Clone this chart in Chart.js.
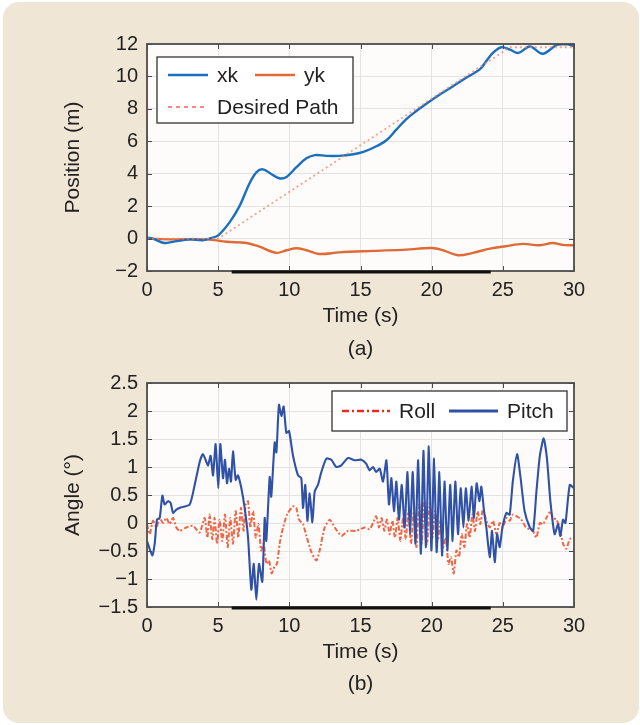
<!DOCTYPE html>
<html>
<head>
<meta charset="utf-8">
<script src="https://cdn.jsdelivr.net/npm/chart.js@4.4.1/dist/chart.umd.min.js"></script>
<style>
  body { margin: 0; background: #ffffff; width: 640px; height: 725px; overflow: hidden; }
  #panel { position: absolute; left: 3px; top: 2px; width: 636px; height: 721px; background: #f0e6d6; border-radius: 16px; }
  .holder { position: absolute; left: 0; width: 640px; }
  .cap { position: absolute; left: 147px; width: 427px; text-align: center; font: 21px "Liberation Sans", Arial, sans-serif; color: #222; line-height: 24px; }
</style>
</head>
<body>
<div id="panel"></div>
<div class="holder" style="top:0;height:362px"><canvas id="positionChart" width="640" height="362"></canvas></div>
<div class="holder" style="top:362px;height:336px"><canvas id="angleChart" width="640" height="336"></canvas></div>
<div class="cap" style="top:336px">(a)</div>
<div class="cap" style="top:671px">(b)</div>
<script>
// ---- data (a): position
const xkTime = [0, 0.4, 1.2, 1.8, 3.0, 3.9, 4.4, 5.0, 5.8, 6.5, 7.2, 7.7, 8.15, 8.7, 9.3, 9.8, 10.5, 11.2, 11.8, 12.6, 13.5, 14.5, 15.2, 15.9, 16.8, 17.5, 18.2, 18.9, 19.6, 20.6, 21.5, 22.4, 23.4, 23.8, 24.3, 24.9, 25.5, 26.1, 26.9, 27.8, 28.8, 29.5, 30];
const xkValues = [0.05, 0.0, -0.27, -0.2, -0.05, -0.1, 0.0, 0.2, 1.0, 2.0, 3.4, 4.1, 4.27, 4.0, 3.72, 3.8, 4.4, 4.95, 5.15, 5.1, 5.1, 5.2, 5.35, 5.6, 6.05, 6.7, 7.35, 7.85, 8.3, 8.9, 9.4, 9.9, 10.45, 10.9, 11.45, 11.8, 11.65, 11.45, 11.85, 11.4, 11.95, 12.0, 11.85];

const ykTime = [0, 1.8, 4.2, 5.6, 7.0, 7.9, 9.1, 9.8, 10.5, 11.2, 12.1, 13.5, 15.9, 18.2, 20.0, 20.8, 21.85, 22.9, 24.1, 25.2, 26.4, 27.6, 28.5, 29.2, 30];
const ykValues = [0, -0.05, -0.05, -0.2, -0.27, -0.5, -0.88, -0.72, -0.6, -0.72, -0.95, -0.85, -0.76, -0.68, -0.58, -0.72, -1.03, -0.88, -0.62, -0.47, -0.33, -0.41, -0.27, -0.39, -0.41];

const pathTime = [0, 5, 25.5, 30];
const pathValues = [0, 0, 11.8, 11.8];

// ---- data (b): angles
const rollTime = [0, 0.19, 0.42, 0.66, 0.89, 1.12, 1.36, 1.59, 1.83, 2.06, 2.3, 2.76, 3.23, 3.7, 4.05, 4.24, 4.4, 4.59, 4.75, 4.92, 5.1, 5.29, 5.48, 5.67, 5.85, 6.04, 6.23, 6.42, 6.6, 6.79, 6.93, 7.1, 7.26, 7.45, 7.64, 7.83, 8.02, 8.2, 8.39, 8.57, 8.76, 8.95, 9.13, 9.32, 9.56, 9.84, 10.14, 10.3, 10.49, 10.68, 10.96, 11.2, 11.55, 11.9, 12.13, 12.48, 12.84, 13.19, 13.66, 14.12, 14.71, 15.3, 15.64, 15.88, 16.1, 16.3, 16.48, 16.67, 16.86, 17.05, 17.24, 17.42, 17.61, 17.8, 17.99, 18.18, 18.36, 18.55, 18.74, 18.93, 19.12, 19.3, 19.49, 19.68, 19.87, 20.06, 20.24, 20.43, 20.62, 20.8, 20.99, 21.18, 21.36, 21.55, 21.74, 21.92, 22.11, 22.3, 22.48, 22.67, 22.86, 23.04, 23.23, 23.42, 23.6, 23.84, 24.08, 24.31, 24.55, 24.78, 25.0, 25.25, 25.48, 25.7, 25.98, 26.3, 26.63, 27.1, 27.36, 27.6, 27.83, 28.06, 28.34, 28.53, 28.76, 29.0, 29.23, 29.46, 29.7, 30];
const rollValues = [-0.02, -0.2, 0.04, -0.08, 0.09, 0.0, 0.09, -0.02, 0.09, -0.08, -0.14, -0.08, -0.05, -0.17, 0.09, -0.26, 0.15, -0.29, 0.09, -0.37, 0.06, -0.32, 0.15, -0.43, 0.09, -0.37, 0.21, -0.26, 0.27, -0.14, 0.33, 0.39, -0.08, 0.21, -0.26, -0.02, -0.49, -0.37, -0.73, -0.67, -0.9, -0.78, -0.73, -0.37, -0.08, 0.15, 0.27, 0.3, 0.27, 0.06, -0.02, -0.23, -0.52, -0.67, -0.49, -0.08, 0.06, -0.08, -0.23, -0.14, -0.14, -0.08, -0.11, 0.0, 0.12, -0.08, 0.09, -0.14, 0.06, -0.2, 0.04, -0.26, 0.09, -0.32, 0.09, -0.29, 0.21, -0.37, 0.21, -0.43, 0.33, -0.37, 0.39, -0.37, 0.36, -0.26, 0.21, -0.32, 0.04, -0.43, -0.26, -0.73, -0.61, -0.9, -0.49, -0.61, -0.2, -0.43, -0.02, -0.26, 0.15, -0.14, 0.21, -0.02, 0.24, 0.04, -0.08, 0.04, -0.2, 0.0, -0.08, 0.09, 0.04, 0.15, 0.12, 0.06, -0.08, -0.14, -0.26, 0.0, -0.02, 0.09, 0.21, 0.09, 0.06, -0.08, -0.37, -0.46, -0.29, -0.26];

const pitchTime = [0, 0.37, 0.54, 0.7, 0.89, 1.08, 1.24, 1.48, 1.66, 1.83, 2.06, 2.41, 3.0, 3.35, 3.7, 3.93, 4.17, 4.29, 4.47, 4.64, 4.82, 5.01, 5.15, 5.34, 5.48, 5.62, 5.76, 5.9, 6.04, 6.23, 6.39, 6.63, 6.86, 7.1, 7.33, 7.5, 7.68, 7.87, 8.1, 8.27, 8.38, 8.62, 8.73, 8.97, 9.09, 9.27, 9.44, 9.6, 9.79, 9.98, 10.26, 10.61, 10.84, 10.96, 11.12, 11.27, 11.43, 11.62, 11.78, 12.01, 12.25, 12.6, 12.95, 13.3, 13.65, 14.12, 14.59, 15.06, 15.4, 15.64, 15.88, 16.1, 16.35, 16.58, 16.82, 17.0, 17.17, 17.35, 17.52, 17.7, 17.9, 18.1, 18.3, 18.48, 18.67, 18.86, 19.05, 19.24, 19.42, 19.6, 19.8, 19.98, 20.17, 20.35, 20.54, 20.73, 20.9, 21.1, 21.3, 21.47, 21.66, 21.85, 22.04, 22.23, 22.4, 22.6, 22.8, 22.97, 23.16, 23.35, 23.49, 23.68, 23.84, 24.08, 24.24, 24.43, 24.6, 24.78, 24.97, 25.25, 25.48, 25.7, 26.0, 26.25, 26.53, 26.9, 27.13, 27.36, 27.6, 27.87, 28.1, 28.34, 28.64, 28.88, 29.04, 29.23, 29.4, 29.7, 30];
const pitchValues = [-0.32, -0.58, -0.37, 0.06, 0.09, 0.49, 0.33, 0.39, 0.36, 0.18, 0.24, 0.28, 0.33, 0.68, 1.09, 1.23, 1.09, 1.03, 1.2, 0.85, 1.41, 0.62, 1.41, 0.8, 1.13, 0.71, 0.97, 0.74, 1.28, 0.77, 0.85, 0.62, 0.27, -0.26, -1.19, -0.73, -1.37, -0.73, -1.05, 0.09, -0.32, 0.82, 0.47, 1.44, 1.26, 2.11, 1.91, 2.08, 1.61, 1.64, 1.2, 0.85, 0.8, 0.27, 0.68, 0.04, 0.53, 0.01, 0.56, 0.68, 0.91, 1.15, 1.13, 1.0, 1.03, 1.16, 1.12, 1.13, 1.06, 0.94, 1.0, 0.91, 0.97, 0.74, 1.12, 0.33, 0.8, 0.21, 0.74, 0.06, 0.68, -0.08, 0.91, -0.2, 0.91, -0.37, 1.12, -0.55, 1.29, -0.43, 1.37, -0.49, 1.15, -0.52, 0.91, -0.58, 0.74, -0.49, 0.68, -0.32, 0.74, -0.2, 0.62, -0.08, 0.62, 0.04, 0.65, 0.09, 0.71, 0.39, 0.65, 0.21, -0.08, -0.61, -0.14, -0.7, -0.2, -0.43, -0.08, 0.18, 0.15, 0.74, 1.23, 0.8, 0.21, -0.08, -0.14, 0.56, 1.2, 1.51, 1.15, 0.39, -0.2, -0.02, -0.23, 0.06, 0.0, 0.68, 0.62];

function toPoints(times, values) {
  return times.map((t, i) => ({ x: t, y: values[i] }));
}

Chart.defaults.font.family = '"Liberation Sans", Arial, Helvetica, sans-serif';
Chart.defaults.color = '#222';

const fontTick = { size: 20 };
const fontTitle = { size: 21 };
const minusLabel = v => (v < 0 ? '\u2212' + Math.abs(v) : String(v));

// plot background, frame and inward tick marks
const framePlugin = {
  id: 'frame',
  beforeDraw(chart) {
    const { ctx, chartArea: a } = chart;
    ctx.save();
    ctx.fillStyle = '#fdfcfa';
    ctx.fillRect(a.left, a.top, a.right - a.left, a.bottom - a.top);
    ctx.restore();
  },
  afterDatasetsDraw(chart, args, opts) {
    const { ctx, chartArea: a, scales: { x, y } } = chart;
    ctx.save();
    ctx.strokeStyle = '#4a4a4a';
    ctx.lineWidth = 1;
    ctx.beginPath();
    x.ticks.forEach(t => {
      const px = Math.round(x.getPixelForValue(t.value)) + 0.5;
      ctx.moveTo(px, a.bottom); ctx.lineTo(px, a.bottom - 5);
      ctx.moveTo(px, a.top); ctx.lineTo(px, a.top + 5);
    });
    y.ticks.forEach(t => {
      const py = Math.round(y.getPixelForValue(t.value)) + 0.5;
      ctx.moveTo(a.left, py); ctx.lineTo(a.left + 5, py);
      ctx.moveTo(a.right, py); ctx.lineTo(a.right - 5, py);
    });
    ctx.stroke();
    ctx.lineWidth = 1.8;
    ctx.strokeStyle = '#4d4d4d';
    ctx.strokeRect(a.left, a.top, a.right - a.left, a.bottom - a.top);
    // dark scan band along the lower edge
    if (opts.bandFrom !== undefined) {
      ctx.lineWidth = 3;
      ctx.strokeStyle = '#111';
      ctx.beginPath();
      ctx.moveTo(x.getPixelForValue(opts.bandFrom), a.bottom + 1);
      ctx.lineTo(x.getPixelForValue(opts.bandTo), a.bottom + 1);
      ctx.stroke();
    }
    ctx.restore();
  }
};

// boxed legend, MATLAB style
const boxLegend = {
  id: 'boxLegend',
  afterDraw(chart, args, opts) {
    const ctx = chart.ctx;
    const b = opts.box;
    ctx.save();
    ctx.fillStyle = '#ffffff';
    ctx.fillRect(b.x, b.y, b.w, b.h);
    ctx.strokeStyle = '#333';
    ctx.lineWidth = 1.3;
    ctx.strokeRect(b.x, b.y, b.w, b.h);
    ctx.font = '21px "Liberation Sans", Arial, sans-serif';
    ctx.fillStyle = '#222';
    ctx.textBaseline = 'middle';
    opts.items.forEach(it => {
      const ds = chart.data.datasets[it.dataset];
      ctx.strokeStyle = it.color || ds.borderColor;
      ctx.lineWidth = it.width || ds.borderWidth;
      ctx.setLineDash(it.dash || ds.borderDash || []);
      ctx.beginPath();
      ctx.moveTo(it.x0, it.y);
      ctx.lineTo(it.x1, it.y);
      ctx.stroke();
      ctx.setLineDash([]);
      ctx.fillText(ds.label, it.tx, it.y + 1);
    });
    ctx.restore();
  }
};

function axes(yMin, yMax, yStep, yTitle) {
  return {
    x: {
      type: 'linear', min: 0, max: 30,
      ticks: { stepSize: 5, padding: 7, font: fontTick, color: '#222', maxRotation: 0 },
      grid: { color: '#e3e3e3', drawTicks: false },
      border: { display: false },
      title: { display: true, text: 'Time (s)', font: fontTitle, color: '#222', padding: { top: 0, bottom: 33 } },
      afterFit(scale) { scale.height = 91; }
    },
    y: {
      type: 'linear', min: yMin, max: yMax,
      ticks: { stepSize: yStep, padding: 9, font: fontTick, color: '#222', callback: minusLabel },
      grid: { color: '#e3e3e3', drawTicks: false },
      border: { display: false },
      title: { display: true, text: yTitle, font: fontTitle, color: '#222', padding: { top: 61, bottom: 0 } },
      afterFit(scale) { scale.width = 147; }
    }
  };
}

const commonOptions = {
  responsive: false,
  animation: false,
  events: [],
  plugins: { legend: { display: false }, tooltip: { enabled: false } },
  elements: { point: { radius: 0 } }
};

new Chart(document.getElementById('positionChart'), {
  type: 'line',
  data: {
    datasets: [
      { label: 'xk', data: toPoints(xkTime, xkValues), borderColor: '#1a6fbf', borderWidth: 2.4, tension: 0.35, order: 1 },
      { label: 'yk', data: toPoints(ykTime, ykValues), borderColor: '#e06a35', borderWidth: 2.4, tension: 0.35, order: 2 },
      { label: 'Desired Path', data: toPoints(pathTime, pathValues), borderColor: 'rgba(248,130,100,0.75)', borderWidth: 1.8, borderDash: [2, 3], tension: 0, order: 0 }
    ]
  },
  options: {
    ...commonOptions,
    layout: { padding: { top: 44, right: 66, left: 0, bottom: 0 } },
    scales: axes(-2, 12, 2, 'Position (m)'),
    plugins: {
      ...commonOptions.plugins,
      frame: { bandFrom: 5.95, bandTo: 24.15 },
      boxLegend: {
        box: { x: 157, y: 57, w: 196, h: 66 },
        items: [
          { dataset: 0, x0: 168, x1: 208, y: 75, tx: 217, width: 2.6 },
          { dataset: 1, x0: 255, x1: 295, y: 75, tx: 304, width: 2.6 },
          { dataset: 2, x0: 168, x1: 208, y: 107, tx: 217, color: '#f03a3a', width: 1.2, dash: [4, 4] }
        ]
      }
    }
  },
  plugins: [framePlugin, boxLegend]
});

new Chart(document.getElementById('angleChart'), {
  type: 'line',
  data: {
    datasets: [
      { label: 'Roll', data: toPoints(rollTime, rollValues), borderColor: 'rgba(238,85,50,0.9)', borderWidth: 2, borderDash: [5, 2, 2, 2], tension: 0.2, order: 2 },
      { label: 'Pitch', data: toPoints(pitchTime, pitchValues), borderColor: '#2f52a8', borderWidth: 2.1, tension: 0.2, order: 1 }
    ]
  },
  options: {
    ...commonOptions,
    layout: { padding: { top: 17, right: 66, left: 0, bottom: 0 } },
    scales: axes(-1.5, 2.5, 0.5, 'Angle (\u00b0)'),
    plugins: {
      ...commonOptions.plugins,
      frame: { bandFrom: 5.95, bandTo: 24.15 },
      boxLegend: {
        box: { x: 332, y: 29, w: 235, h: 40 },
        items: [
          { dataset: 0, x0: 342, x1: 390, y: 49, tx: 399, color: '#e82a20', width: 2.4, dash: [7, 3, 2, 3] },
          { dataset: 1, x0: 449, x1: 498, y: 49, tx: 507, width: 2.8 }
        ]
      }
    }
  },
  plugins: [framePlugin, boxLegend]
});
</script>
</body>
</html>
